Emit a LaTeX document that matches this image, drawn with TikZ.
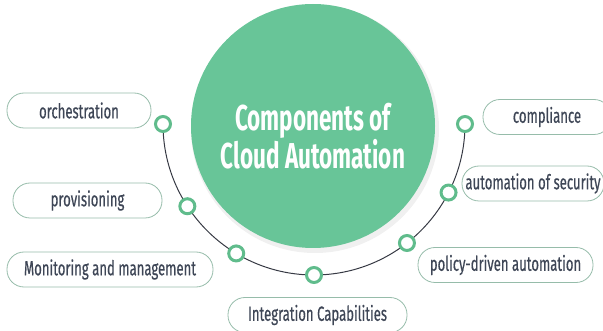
\documentclass[tikz,border=0pt]{standalone}
\usepackage{fontspec}
\setmainfont{Fira Sans}
\newfontfamily\narrowfont[FakeStretch=0.64, FakeBold=0.5]{Fira Sans}
\newfontfamily\titlefont[FakeStretch=0.625]{Fira Sans}
\usepackage{tikz}
\usetikzlibrary{positioning,backgrounds,calc}

\definecolor{hubgreen}{RGB}{104,197,152}
\definecolor{ringgreen}{RGB}{96,188,140}
\definecolor{pillline}{RGB}{150,188,170}
\definecolor{labeltext}{RGB}{62,70,86}
\definecolor{arcgray}{RGB}{55,58,68}

\begin{document}
\begin{tikzpicture}[
x=1pt, y=-1pt,
pill/.style={draw=pillline, line width=0.8pt, rounded corners=17pt, minimum height=35pt,
  inner sep=0pt, text=labeltext, font=\narrowfont\fontsize{20.5}{22}\selectfont},
ring/.style={circle, draw=ringgreen, line width=3pt, fill=white, minimum size=15pt, inner sep=0pt}
]
\useasboundingbox (0,0) rectangle (603,331);

% Hub
\coordinate (hub) at (314,124);
\fill[black!6] (315,129) circle[radius=124pt];
\node (disc) [circle, fill=hubgreen, minimum size=244pt] at (313,126) {};
\node (title) [text=white, align=center, inner sep=0pt,
  font=\titlefont\bfseries\fontsize{36}{36}\selectfont] at (313,136)
  {Components of\\Cloud Automation};

% Dots on the arc
\node (d1) [ring] at ($(hub)+(180:151pt)$) {};
\node (d2) [ring] at ($(hub)+(213:151pt)$) {};
\node (d3) [ring] at ($(hub)+(239:151pt)$) {};
\node (d4) [ring] at ($(hub)+(270:151pt)$) {};
\node (d5) [ring] at ($(hub)+(308:151pt)$) {};
\node (d6) [ring] at ($(hub)+(333:151pt)$) {};
\node (d7) [ring] at ($(hub)+(360:151pt)$) {};

% Labels
\node (orch) [pill, minimum width=144pt] at (79,110.5) {orchestration};
\node (prov) [pill, minimum width=149pt] at (87.5,200.5) {provisioning};
\node (monit) [pill, minimum width=206pt] at (110,269.5) {Monitoring and management};
\node (integ) [pill, minimum width=179pt] at (317.5,315) {Integration Capabilities};
\node (compl) [pill, minimum width=128pt] at (547,117) {compliance};
\node (secur) [pill, minimum width=142pt] at (533,183.5) {automation of security};
\node (policy) [pill, minimum width=175pt] at (505.5,265) {policy-driven automation};

% Arc behind the dots
\begin{scope}[on background layer]
\draw[arcgray, line width=1pt] (d1.center) arc[start angle=180, end angle=360, radius=151pt];
\end{scope}
\end{tikzpicture}
\end{document}
